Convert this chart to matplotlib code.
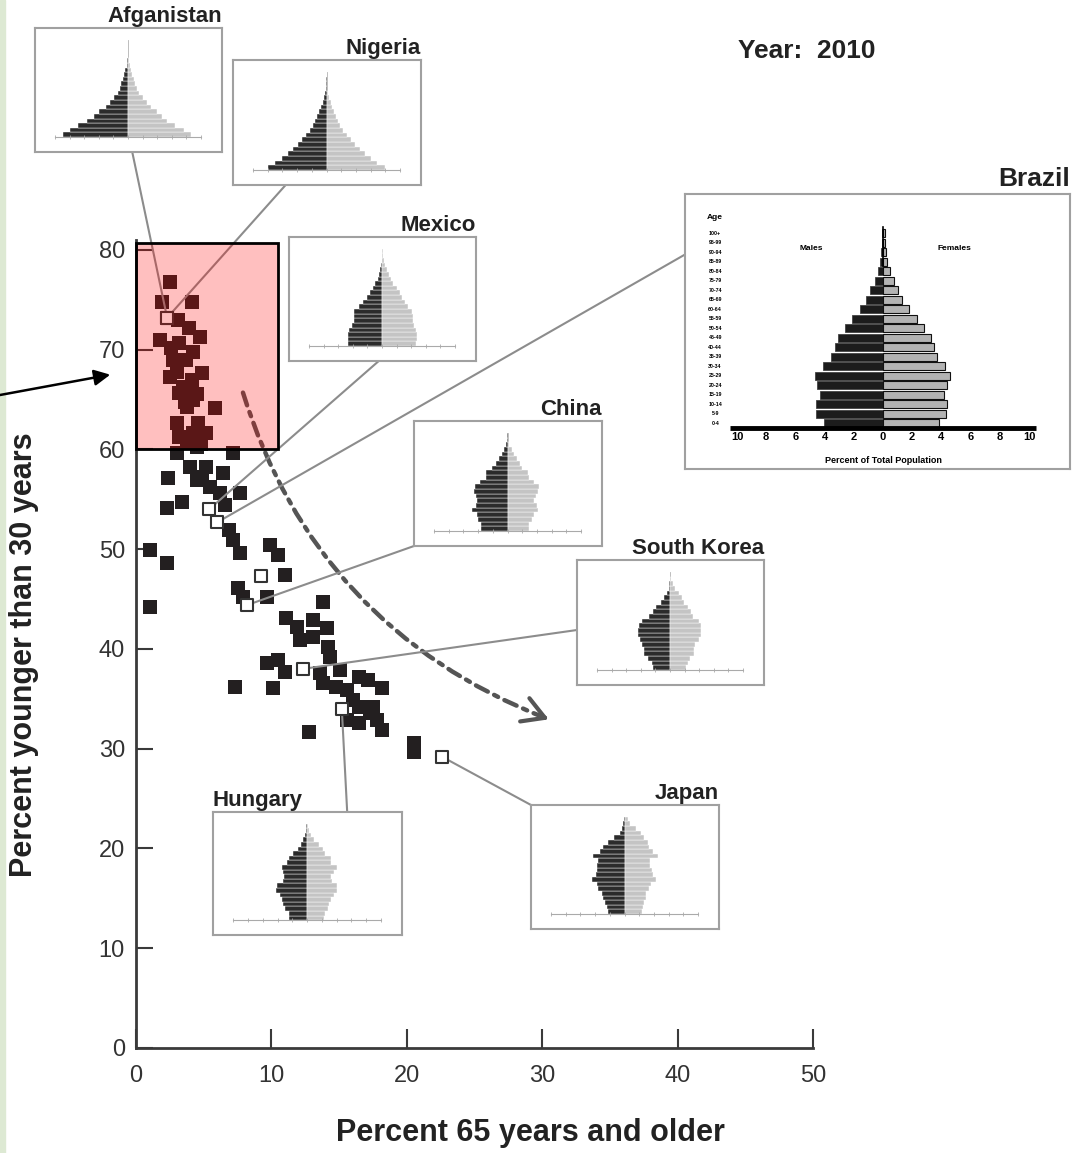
import numpy as np
import matplotlib.pyplot as plt
from matplotlib.patches import Rectangle, ConnectionPatch

plt.rcParams['font.family'] = ['Liberation Sans', 'DejaVu Sans']

W, H = 1076, 1153

# one square per country, 2010: percent aged 65+ vs percent younger than 30
old_pct = [2.5, 1.9, 4.1, 3.1, 1.8, 4.7, 3.2, 4.2, 2.7, 2.5, 4.9, 3.5, 3.2, 4.2, 3.8, 5.8, 3.0, 4.6, 4.2, 3.8, 5.2,
           3.9, 2.6, 3.7, 3.0, 4.1, 3.6, 3.2, 4.8, 4.5,
           3.0, 4.5, 7.2, 4.0, 5.2, 6.4, 2.4, 4.5, 4.9, 5.5, 6.2, 7.7, 3.4, 2.3, 6.6, 6.9, 7.2, 7.7, 1.0, 2.3,
           9.9, 10.5, 11.0, 7.5, 7.9, 9.7, 1.0,
           13.8, 11.1, 11.9, 13.1, 14.1, 12.1, 13.1, 14.2, 14.3, 9.7, 10.5, 11.0, 13.6, 15.1, 13.8, 14.8, 16.5,
           17.1, 18.2, 15.6, 7.3, 10.1, 16.5, 17.5, 15.6, 16.5, 17.8, 18.2, 12.8, 20.5, 20.5, 16.0, 17.3]
young_pct = [76.8, 74.8, 74.8, 73.0, 71.0, 71.3, 70.7, 69.8, 69.0, 67.3, 67.7, 66.3, 65.7, 65.0, 64.3, 64.2, 62.7, 62.7, 61.7, 60.8, 61.7,
             72.2, 70.2, 69.0, 67.8, 67.0, 64.8, 61.3, 60.5, 65.6,
             59.6, 60.2, 59.6, 58.2, 58.2, 57.6, 57.1, 56.9, 57.2, 56.2, 55.6, 55.6, 54.7, 54.1, 54.4, 51.9, 50.9, 49.6, 49.9, 48.6,
             50.4, 49.4, 47.4, 46.1, 45.2, 45.2, 44.2,
             44.7, 43.1, 42.2, 42.9, 42.1, 40.9, 41.2, 40.2, 39.2, 38.6, 38.9, 37.7, 37.6, 37.9, 36.6, 36.2, 37.2,
             36.9, 36.1, 35.9, 36.2, 36.1, 34.2, 34.2, 32.9, 32.6, 32.9, 31.9, 31.7, 30.6, 29.7, 34.9, 33.6]

# highlighted countries (open squares)
named = ['Afganistan', 'Nigeria', 'Mexico', 'Brazil', 'China', 'South Korea', 'Hungary', 'Japan']
named_old = [2.3, 2.3, 5.4, 6.0, 8.2, 12.3, 15.2, 22.6]
named_young = [73.2, 73.2, 54.0, 52.7, 44.4, 38.0, 34.0, 29.2]
other_open_old = [9.2]
other_open_young = [47.3]

# population pyramids, percent of total population, ages 0-4 ... 100+
age_groups = ['0-4', '5-9', '10-14', '15-19', '20-24', '25-29', '30-34', '35-39', '40-44', '45-49',
              '50-54', '55-59', '60-64', '65-69', '70-74', '75-79', '80-84', '85-89', '90-94', '95-99', '100+']
afg_m = [8.9, 8.0, 6.8, 5.6, 4.7, 4.0, 3.0, 2.5, 1.9, 1.4, 1.1, 0.9, 0.7, 0.5, 0.35, 0.2, 0.1, 0.05, 0.02, 0.01, 0.0]
afg_f = [8.6, 7.7, 6.5, 5.4, 4.6, 3.9, 3.1, 2.6, 2.0, 1.5, 1.2, 1.0, 0.8, 0.6, 0.4, 0.25, 0.12, 0.06, 0.02, 0.01, 0.0]
nga_m = [8.0, 7.0, 6.1, 5.3, 4.6, 3.9, 3.3, 2.8, 2.3, 1.9, 1.6, 1.3, 1.0, 0.7, 0.5, 0.3, 0.15, 0.06, 0.02, 0.01, 0.0]
nga_f = [7.9, 6.9, 6.0, 5.2, 4.5, 3.9, 3.3, 2.8, 2.3, 1.9, 1.6, 1.3, 1.0, 0.8, 0.55, 0.35, 0.18, 0.07, 0.03, 0.01, 0.0]
mex_m = [4.6, 4.7, 4.7, 4.5, 4.1, 3.8, 3.9, 3.9, 3.1, 2.6, 2.1, 1.6, 1.2, 0.9, 0.6, 0.45, 0.27, 0.14, 0.05, 0.03, 0.01]
mex_f = [4.6, 4.8, 4.8, 4.6, 4.4, 4.2, 4.2, 4.1, 3.5, 3.1, 2.8, 2.4, 2.0, 1.55, 1.2, 0.9, 0.7, 0.45, 0.27, 0.18, 0.1]
bra_m = [4.06, 4.57, 4.57, 4.34, 4.5, 4.63, 4.1, 3.54, 3.29, 3.08, 2.58, 2.1, 1.58, 1.14, 0.87, 0.55, 0.37, 0.2, 0.12, 0.08, 0.05]
bra_f = [3.81, 4.34, 4.38, 4.18, 4.4, 4.57, 4.22, 3.72, 3.52, 3.29, 2.79, 2.33, 1.78, 1.3, 1.05, 0.73, 0.46, 0.27, 0.18, 0.14, 0.11]
chn_m = [3.6, 3.6, 4.0, 4.2, 4.8, 4.3, 4.1, 4.3, 4.5, 4.4, 3.7, 2.9, 2.9, 2.1, 1.6, 1.1, 0.77, 0.45, 0.23, 0.14, 0.09]
chn_f = [2.9, 2.9, 3.4, 3.6, 4.1, 4.0, 3.6, 3.9, 4.1, 4.3, 3.6, 2.9, 2.8, 2.0, 1.7, 1.35, 0.9, 0.55, 0.22, 0.1, 0.05]
kor_m = [2.3, 2.5, 3.0, 3.5, 3.6, 3.9, 4.1, 4.4, 4.4, 4.2, 3.8, 2.9, 2.3, 1.9, 1.3, 0.8, 0.45, 0.2, 0.08, 0.03, 0.01]
kor_f = [2.2, 2.4, 2.8, 3.3, 3.3, 3.4, 4.0, 4.2, 4.3, 4.2, 4.0, 3.1, 2.9, 2.5, 1.9, 1.6, 1.2, 0.7, 0.35, 0.12, 0.04]
hun_m = [2.4, 2.4, 3.0, 3.2, 3.35, 3.6, 4.2, 4.1, 3.2, 3.1, 3.2, 3.4, 2.7, 2.45, 1.9, 1.2, 0.85, 0.6, 0.25, 0.15, 0.1]
hun_f = [2.35, 2.4, 2.8, 3.0, 3.3, 3.6, 4.1, 4.0, 3.4, 3.3, 3.6, 4.0, 3.3, 3.2, 2.5, 2.1, 1.6, 1.0, 0.5, 0.3, 0.15]
jpn_m = [2.3, 2.4, 2.65, 2.9, 3.1, 3.6, 3.8, 4.4, 3.9, 3.7, 3.7, 3.6, 4.3, 3.35, 2.9, 2.2, 1.5, 0.65, 0.3, 0.2, 0.1]
jpn_f = [2.4, 2.5, 2.7, 2.9, 2.9, 3.4, 3.6, 4.3, 3.9, 3.7, 3.5, 3.5, 4.5, 3.9, 3.4, 3.2, 2.7, 2.2, 1.5, 0.8, 0.5]
pyramids = {'Afganistan': (afg_m, afg_f), 'Nigeria': (nga_m, nga_f), 'Mexico': (mex_m, mex_f),
            'China': (chn_m, chn_f), 'South Korea': (kor_m, kor_f), 'Hungary': (hun_m, hun_f),
            'Japan': (jpn_m, jpn_f)}
bra_ticks = [-10, -8, -6, -4, -2, 0, 2, 4, 6, 8, 10]

# inset boxes in pixels (left, top, right, bottom), anchor of the connector on the box
boxes = {'Afganistan': (35, 28, 222, 152), 'Nigeria': (233, 60, 421, 185), 'Mexico': (289, 237, 476, 361),
         'Brazil': (685, 194, 1070, 469), 'China': (414, 421, 602, 546), 'South Korea': (577, 560, 764, 685),
         'Hungary': (213, 812, 402, 935), 'Japan': (531, 805, 719, 929)}
anchors = {'Afganistan': (0.52, 0), 'Nigeria': (0.28, 0), 'Mexico': (0.48, 0), 'Brazil': (0, 0.78),
           'China': (0, 0), 'South Korea': (0, 0.44), 'Hungary': (0.71, 1), 'Japan': (0, 1)}


def px_box(l, t, r, b):
    return [l / W, 1 - b / H, (r - l) / W, (b - t) / H]


fig = plt.figure(figsize=(W / 100, H / 100), dpi=100)
fig.add_artist(Rectangle((0, 0), 5 / W, 1, transform=fig.transFigure, color='#dde9d3', zorder=-1))

ax = fig.add_axes(px_box(136, 240, 813, 1048))
ax.set_xlim(0, 50)
ax.set_ylim(0, 81)
for s in ['top', 'right']:
    ax.spines[s].set_visible(False)
for s in ['left', 'bottom']:
    ax.spines[s].set_color('#3a3a3a')
    ax.spines[s].set_linewidth(2)
ax.set_xticks(range(0, 51, 10))
ax.set_yticks(range(0, 81, 10))
ax.tick_params(direction='in', width=1.5, color='#3a3a3a', labelsize=17, labelcolor='#333333')
ax.tick_params(axis='x', length=14, pad=12)
ax.tick_params(axis='y', length=12, pad=8)

ax.scatter(old_pct, young_pct, marker='s', s=100, c='#231f20', linewidths=0, zorder=3)
ax.scatter(named_old, named_young, marker='s', s=80, facecolor='white', edgecolor='#333333',
           linewidths=1.5, zorder=5)
ax.scatter(other_open_old, other_open_young, marker='s', s=80, facecolor='white', edgecolor='#333333',
           linewidths=1.5, zorder=5)
ax.add_patch(Rectangle((0, 60), 10.5, 20.7, facecolor=(1, 0, 0, 0.25), edgecolor='black', lw=2, zorder=6,
                       clip_on=False))

# trend arrow: dash-dot curve plus a solid open head
trend_start = (7.9, 65.7)
trend_end = (30.2, 33.1)
ax.annotate('', xy=trend_end, xytext=trend_start,
            arrowprops=dict(arrowstyle='-', connectionstyle='arc3,rad=0.24', color='#555555', lw=3.2,
                            linestyle=(0, (3, 1.6, 1, 1.6)), shrinkA=0, shrinkB=0), zorder=4)
back = np.degrees(np.arctan2(0.37, -0.93))
for da in (-30, 30):
    a = np.radians(back + da)
    ax.annotate('', xy=trend_end, xytext=(18 * np.cos(a), 18 * np.sin(a)), textcoords='offset points',
                arrowprops=dict(arrowstyle='-', color='#555555', lw=3, shrinkA=0, shrinkB=0,
                                capstyle='round'), zorder=4)

# pointer into the red box from the left margin
ax.annotate('', xy=(-1.9, 67.5), xycoords='data', xytext=(0.0, 1 - 395 / H), textcoords='figure fraction',
            arrowprops=dict(arrowstyle='-|>', color='black', lw=1.8, mutation_scale=24, shrinkA=0, shrinkB=0),
            annotation_clip=False)

fig.text(24 / W, 1 - 655 / H, 'Percent younger than 30 years', rotation=90, ha='center', va='center',
         fontsize=22, fontweight='bold', color='#222222')
fig.text(530 / W, 1 - 1133 / H, 'Percent 65 years and older', ha='center', va='center',
         fontsize=22, fontweight='bold', color='#222222')
fig.text(738 / W, 1 - 63 / H, 'Year:  2010', ha='left', va='bottom', fontsize=19, fontweight='bold',
         color='#222222')

for name, ox, oy in zip(named, named_old, named_young):
    l, t, r, b = boxes[name]
    frame = fig.add_axes(px_box(l, t, r, b))
    frame.set_xticks([])
    frame.set_yticks([])
    for s in frame.spines.values():
        s.set_color('#a0a0a0')
        s.set_linewidth(1.5)
    con = ConnectionPatch(xyA=anchors[name], coordsA=frame.transAxes, xyB=(ox, oy), coordsB=ax.transData,
                          color='#8c8c8c', lw=1.5, zorder=4)
    ax.add_artist(con)
    con.set_clip_on(False)

    w, h = r - l, b - t
    rows = range(len(age_groups))
    if name == 'Brazil':
        fig.text(r / W, 1 - (t - 3) / H, name, ha='right', va='bottom', fontsize=19, fontweight='bold',
                 color='#222222')
        ib = fig.add_axes(px_box(729, 216, 1037, 431))
        ib.patch.set_alpha(0)
        ib.set_xlim(-10.55, 10.55)
        ib.set_ylim(-0.8, 21.8)
        ib.barh(rows, [-v for v in bra_m], height=0.82, color='#1c1c1c', edgecolor='#444444', lw=0.6)
        ib.barh(rows, bra_f, height=0.82, color='#b3b3b3', edgecolor='#111111', lw=0.8)
        ib.plot([0, 0], [16.5, 20.6], color='black', lw=1.2)
        ib.plot([-10.5, 10.5], [-0.5, -0.5], color='black', lw=3.5, solid_capstyle='butt')
        for s in ib.spines.values():
            s.set_visible(False)
        ib.set_yticks([])
        ib.set_xticks(bra_ticks)
        ib.set_xticklabels([str(abs(v)) for v in bra_ticks], fontsize=8, fontweight='bold')
        ib.tick_params(axis='x', length=0, pad=1)
        for i, lab in enumerate(age_groups):
            ib.text(-11.5, i, lab, ha='center', va='center', fontsize=3.8, fontweight='bold', clip_on=False)
        ib.text(-11.5, 21.6, 'Age', ha='center', va='center', fontsize=6, fontweight='bold', clip_on=False)
        ib.text(-4.9, 18.4, 'Males', ha='center', va='center', fontsize=6, fontweight='bold')
        ib.text(4.9, 18.4, 'Females', ha='center', va='center', fontsize=6, fontweight='bold')
        ib.text(0, -3.9, 'Percent of Total Population', ha='center', va='center', fontsize=6.5,
                fontweight='bold', clip_on=False)
        continue

    if name == 'Hungary':
        fig.text(l / W, 1 - (t - 1) / H, name, ha='left', va='bottom', fontsize=16, fontweight='bold',
                 color='#222222')
    else:
        fig.text(r / W, 1 - (t - 1) / H, name, ha='right', va='bottom', fontsize=16, fontweight='bold',
                 color='#222222')
    males, females = pyramids[name]
    ip = fig.add_axes(px_box(l + 0.107 * w, t + 0.095 * h, l + 0.888 * w, b - 0.12 * h))
    ip.patch.set_alpha(0)
    ip.set_xlim(-10, 10)
    ip.set_ylim(-0.5, 20.5)
    ip.axvline(0, color='#888888', lw=0.6, zorder=0)
    ip.barh(rows, [-v for v in males], height=1, color='#2b2b2b', edgecolor='white', lw=0.3)
    ip.barh(rows, females, height=1, color='#c4c4c4', edgecolor='white', lw=0.3)
    for s in ['top', 'left', 'right']:
        ip.spines[s].set_visible(False)
    ip.spines['bottom'].set_color('#aaaaaa')
    ip.spines['bottom'].set_linewidth(0.8)
    ip.set_yticks([])
    ip.set_xticks(range(-10, 11, 2))
    ip.set_xticklabels([])
    ip.tick_params(axis='x', direction='inout', length=3, width=0.6, color='#aaaaaa')

fig.savefig('out.png', dpi=100)
